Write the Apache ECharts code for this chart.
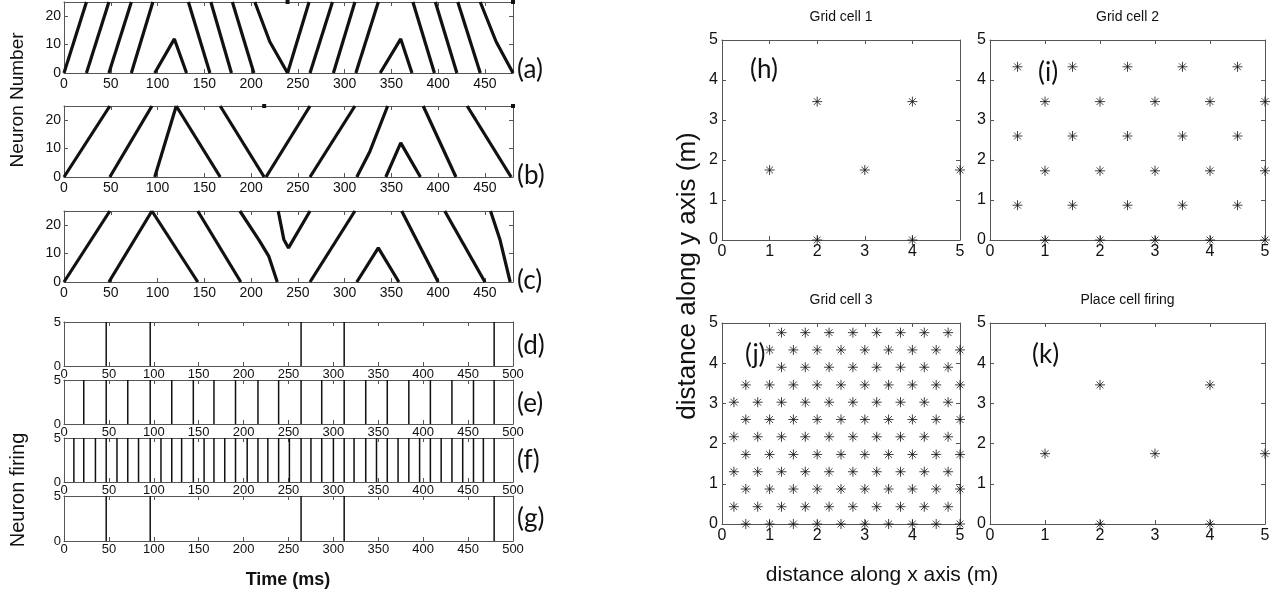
<!DOCTYPE html>
<html><head><meta charset="utf-8">
<script src="https://cdn.jsdelivr.net/npm/echarts@6/dist/echarts.min.js"></script>
<style>html,body{margin:0;padding:0;background:#fff}#c{width:1273px;height:606px}</style>
</head><body><div id="c"></div>
<script>
// ---------- DATA ----------
// (a)-(c): raster tracks, each a polyline of [time ms, neuron number]
const neuronA = [
  [[0,0],[24,25]], [[24,0],[48,25]], [[48,0],[72,25]], [[72,0],[95,25]],
  [[97,0],[118,12],[131,0]],
  [[133,25],[156,0]], [[157,25],[179,0]], [[180,25],[203,0]],
  [[204,25],[220,11],[239,0]], [[239,0],[262,25]],
  [[263,0],[287,25]], [[288,0],[311,25]], [[312,0],[336,25]],
  [[338,0],[360,12],[372,0]],
  [[373,25],[396,0]], [[397,25],[420,0]], [[421,25],[445,0]],
  [[445,25],[462,11],[480,0]],
  [[239,25]], [[480,25]]
];
const neuronB = [
  [[0,0],[49,25]], [[49,0],[94,25]], [[97,0],[120,25]], [[120,25],[167,0]],
  [[167,25],[214,0]], [[216,0],[263,25]], [[263,0],[311,25]],
  [[313,0],[327,9],[346,25]], [[344,0],[360,12],[381,0]],
  [[384,25],[419,0]], [[431,25],[478,0]],
  [[214,25]], [[480,25]]
];
const neuronC = [
  [[0,0],[49,25]], [[48,0],[94,25]], [[94,25],[143,0]], [[143,25],[189,0]],
  [[188,25],[209,14.5],[219,9],[228,0]],
  [[229,25],[235,15],[240,12],[263,25]],
  [[263,0],[311,25]], [[313,0],[336,12],[358,0]],
  [[361,25],[400,0]], [[407,25],[450,0]], [[456,25],[466,15],[477,0]]
];
// (d)-(g): spike times (ms), spikes reach 5
const spikesD = [47, 96, 264, 312, 479];
const spikesE = [22, 47, 71, 96, 120, 144, 167, 191, 216, 239, 264, 287, 312, 336, 360, 384, 408, 432, 456, 479];
const spikesF = [11, 22, 35, 47, 59, 71, 83, 96, 108, 120, 131, 144, 156, 167, 179, 191, 204, 216, 227, 239,
                 251, 264, 275, 287, 300, 312, 323, 336, 348, 360, 372, 384, 396, 408, 420, 432, 444, 456, 467, 479];
const spikesG = [47, 96, 264, 312, 479];
// (h)-(k): firing locations [x m, y m]
const gridCell1 = [[1,1.75],[2,3.46],[2,0],[3,1.75],[4,3.46],[4,0],[5,1.75]];
const gridCell2 = [
  [0.5,4.33],[1.5,4.33],[2.5,4.33],[3.5,4.33],[4.5,4.33],
  [1,3.46],[2,3.46],[3,3.46],[4,3.46],[5,3.46],
  [0.5,2.6],[1.5,2.6],[2.5,2.6],[3.5,2.6],[4.5,2.6],
  [1,1.73],[2,1.73],[3,1.73],[4,1.73],[5,1.73],
  [0.5,0.87],[1.5,0.87],[2.5,0.87],[3.5,0.87],[4.5,0.87],
  [1,0],[2,0],[3,0],[4,0],[5,0]
];
const gridCell3RowY = [4.76, 4.33, 3.9, 3.46, 3.03, 2.6, 2.17, 1.73, 1.3, 0.87, 0.43, 0];
const gridCell3RowX = [
  [1.25,1.75,2.25,2.75,3.25,3.75,4.25,4.75],
  [1,1.5,2,2.5,3,3.5,4,4.5,5],
  [1.25,1.75,2.25,2.75,3.25,3.75,4.25,4.75],
  [0.5,1,1.5,2,2.5,3,3.5,4,4.5,5],
  [0.25,0.75,1.25,1.75,2.25,2.75,3.25,3.75,4.25,4.75],
  [0.5,1,1.5,2,2.5,3,3.5,4,4.5,5],
  [0.25,0.75,1.25,1.75,2.25,2.75,3.25,3.75,4.25,4.75],
  [0.5,1,1.5,2,2.5,3,3.5,4,4.5,5],
  [0.25,0.75,1.25,1.75,2.25,2.75,3.25,3.75,4.25,4.75],
  [0.5,1,1.5,2,2.5,3,3.5,4,4.5,5],
  [0.25,0.75,1.25,1.75,2.25,2.75,3.25,3.75,4.25,4.75],
  [0.5,1,1.5,2,2.5,3,3.5,4,4.5,5]
];
const placeCell = [[1,1.75],[2,3.46],[2,0],[3,1.75],[4,3.46],[4,0],[5,1.75]];
const leftLabels = ['(a)','(b)','(c)','(d)','(e)','(f)','(g)'];
const rightLabels = ['(h)','(i)','(j)','(k)'];
const rightTitles = ['Grid cell 1','Grid cell 2','Grid cell 3','Place cell firing'];

// ---------- LAYOUT ----------
const FL = 'Liberation Sans';
const leftBoxes = [
  {top:2, height:71}, {top:106, height:71}, {top:211, height:71},
  {top:322, height:44}, {top:380, height:44}, {top:438, height:44}, {top:496, height:45}
];
const LL = 64, LW = 449;
const rightBoxes = [
  {left:722, top:40, width:238, height:200},
  {left:990, top:40, width:275, height:200},
  {left:722, top:323, width:238, height:201},
  {left:990, top:323, width:275, height:201}
];
const grids = [], xAxes = [], yAxes = [], series = [];
const AX = '#555';
function addAxes(gi, xmax, ymax, yint, fs, xm, ym, hideMax) {
  const base = {type:'value', gridIndex:gi, splitLine:{show:false},
    axisLine:{show:true, onZero:false, lineStyle:{color:AX, width:1}},
    axisTick:{show:true, inside:true, length:4, lineStyle:{color:AX}}};
  const xint = xmax > 10 ? 50 : 1;
  xAxes.push(Object.assign({}, base, {position:'bottom', min:0, max:xmax, interval:xint,
    axisLabel:{color:'#111', fontFamily:FL, fontSize:fs, margin:xm, showMaxLabel: !hideMax}}));
  xAxes.push(Object.assign({}, base, {position:'top', min:0, max:xmax, interval:xint, axisLabel:{show:false}}));
  yAxes.push(Object.assign({}, base, {position:'left', min:0, max:ymax, interval:yint,
    axisLabel:{color:'#111', fontFamily:FL, fontSize:fs, margin:ym, showMaxLabel: !hideMax}}));
  yAxes.push(Object.assign({}, base, {position:'right', min:0, max:ymax, interval:yint, axisLabel:{show:false}}));
}
leftBoxes.forEach((b,i) => {
  grids.push({left:LL, top:b.top, width:LW, height:b.height});
  if (i < 3) addAxes(i, 480, 25, 10, 14, 4, 3, true); else addAxes(i, 500, 5, 5, 13, 2, 3, false);
});
rightBoxes.forEach((b,i) => { grids.push(b); addAxes(7+i, 5, 5, 1, 16, 4, 4, false); });

[neuronA, neuronB, neuronC].forEach((tracks, gi) => {
  tracks.forEach(poly => series.push({type:'line', xAxisIndex:2*gi, yAxisIndex:2*gi, data:poly,
    symbol: poly.length === 1 ? 'rect' : 'none', symbolSize:4, showSymbol: poly.length === 1,
    lineStyle:{color:'#111', width:3.2}, itemStyle:{color:'#111'}, silent:true, animation:false, clip:false}));
});
[spikesD, spikesE, spikesF, spikesG].forEach((sp, k) => {
  const gi = 3 + k;
  sp.forEach(t => series.push({type:'line', xAxisIndex:2*gi, yAxisIndex:2*gi, data:[[t,0],[t,5]],
    symbol:'none', lineStyle:{color:'#111', width:1.5}, silent:true, animation:false}));
});
const STAR = 'path://M5,0L5,10M0,5L10,5M1.6,1.6L8.4,8.4M1.6,8.4L8.4,1.6';
const gc3 = [];
gridCell3RowY.forEach((y, r) => gridCell3RowX[r].forEach(x => gc3.push([x, y])));
[gridCell1, gridCell2, gc3, placeCell].forEach((pts, k) => {
  const gi = 7 + k;
  series.push({type:'scatter', xAxisIndex:2*gi, yAxisIndex:2*gi, data:pts, symbol:STAR, symbolSize:10,
    itemStyle:{color:'rgba(0,0,0,0)', borderColor:'#111', borderWidth:1}, silent:true, animation:false, clip:false});
});

// ---------- TEXT ----------
const graphic = [];
const labelY = [70,176,281,346,404,461,519];
leftLabels.forEach((s,i) => graphic.push({type:'text', x:517, y:labelY[i],
  style:{text:s, font:'26px Lato', fill:'#111', verticalAlign:'middle'}}));
const rl = [[750,70],[1038,73],[745,355],[1032,355]];
rightLabels.forEach((s,i) => graphic.push({type:'text', x:rl[i][0], y:rl[i][1],
  style:{text:s, font:'26px Lato', fill:'#111', verticalAlign:'middle'}}));
rightBoxes.forEach((b,i) => graphic.push({type:'text', x:b.left + b.width/2, y:b.top - 23,
  style:{text:rightTitles[i], font:'14px Liberation Sans', fill:'#111', align:'center', verticalAlign:'middle'}}));
graphic.push({type:'text', x:18, y:100, rotation:Math.PI/2,
  style:{text:'Neuron Number', font:'19px Liberation Sans', fill:'#111', align:'center', verticalAlign:'middle'}});
graphic.push({type:'text', x:18, y:490, rotation:Math.PI/2,
  style:{text:'Neuron firing', font:'20px Liberation Sans', fill:'#111', align:'center', verticalAlign:'middle'}});
graphic.push({type:'text', x:288, y:580,
  style:{text:'Time (ms)', font:'bold 18px Liberation Sans', fill:'#111', align:'center', verticalAlign:'middle'}});
graphic.push({type:'text', x:688, y:276, rotation:Math.PI/2,
  style:{text:'distance along y axis (m)', font:'26px Liberation Sans', fill:'#111', align:'center', verticalAlign:'middle'}});
graphic.push({type:'text', x:882, y:575,
  style:{text:'distance along x axis (m)', font:'21px Liberation Sans', fill:'#111', align:'center', verticalAlign:'middle'}});

const chart = echarts.init(document.getElementById('c'));
chart.setOption({backgroundColor:'#fff', animation:false, grid:grids, xAxis:xAxes, yAxis:yAxes, series:series, graphic:graphic});
</script></body></html>
